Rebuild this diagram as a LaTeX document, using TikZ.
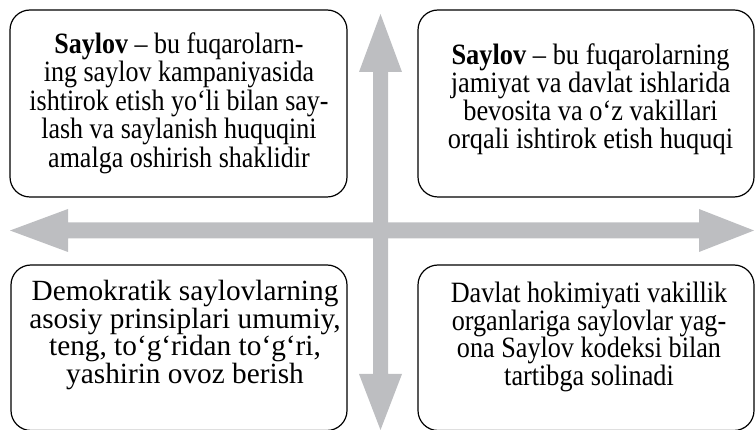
\documentclass[tikz,border=0pt]{standalone}
\usepackage{fontspec}
\usepackage{graphicx}
\setmainfont{Liberation Serif}
\definecolor{arrowgray}{RGB}{189,190,193}
% condensed centred text block: #1 horizontal scale, #2 baselineskip, #3 lines
\newcommand\sqztext[3]{\scalebox{#1}[1]{\vbox{\hsize=420pt\parindent=0pt\centering
  \fontsize{29.5}{#2}\selectfont #3\par}}}
\tikzset{
  box/.style={draw=black, line width=1.2pt, rounded corners=20pt, fill=white, inner sep=0pt},
  txt/.style={align=center, inner sep=0pt},
  txtbig/.style={align=center, inner sep=0pt, font=\fontsize{29.3}{27.8}\selectfont},
  bigarrow/.style={fill=arrowgray, draw=none}
}
\begin{document}
\begin{tikzpicture}[x=1pt,y=-1pt]
\useasboundingbox (0,0) rectangle (756,430);
\clip (0,0) rectangle (756,430);
% cross of arrows
\coordinate (up) at (380.5,14);
\coordinate (down) at (380.5,430);
\coordinate (left) at (10,230.5);
\coordinate (right) at (754,230.5);
\fill[bigarrow] (up) -- (402,72) -- (388,72) -- (388,374) -- (402,374) -- (down)
  -- (359,374) -- (373,374) -- (373,72) -- (359,72) -- cycle;
\fill[bigarrow] (left) -- (68,209) -- (68,222.5) -- (699,222.5) -- (699,209) -- (right)
  -- (699,252) -- (699,238.5) -- (68,238.5) -- (68,252) -- cycle;
% boxes
\node[box, minimum width=337pt, minimum height=187pt] (tlbox) at (178.5,103.5) {};
\node[box, minimum width=336pt, minimum height=187pt] (trbox) at (586,103.5) {};
\node[box, minimum width=336pt, minimum height=165.5pt] (blbox) at (179,347.75) {};
\node[box, minimum width=336pt, minimum height=165.5pt] (brbox) at (586,347.75) {};
% texts
\node[txt] (tltext) at (179,103) {\sqztext{0.882}{28.5pt}{\textbf{Saylov} – bu fuqarolarn-\\ing saylov kampaniyasida\\ishtirok etish yo‘li bilan say-\\lash va saylanish huquqini\\amalga oshirish shaklidir}};
\node[txt] (trtext) at (590.5,99) {\sqztext{0.895}{28pt}{\textbf{Saylov} – bu fuqarolarning\\jamiyat va davlat ishlarida\\bevosita va o‘z vakillari\\orqali ishtirok etish huquqi}};
\node[txtbig] (bltext) at (185,335) {Demokratik saylovlarning\\asosiy prinsiplari umumiy,\\teng, to‘g‘ridan to‘g‘ri,\\yashirin ovoz berish};
\node[txt] (brtext) at (589,337) {\sqztext{0.888}{27.7pt}{Davlat hokimiyati vakillik\\organlariga saylovlar yag-\\ona Saylov kodeksi bilan\\tartibga solinadi}};
\end{tikzpicture}
\end{document}
